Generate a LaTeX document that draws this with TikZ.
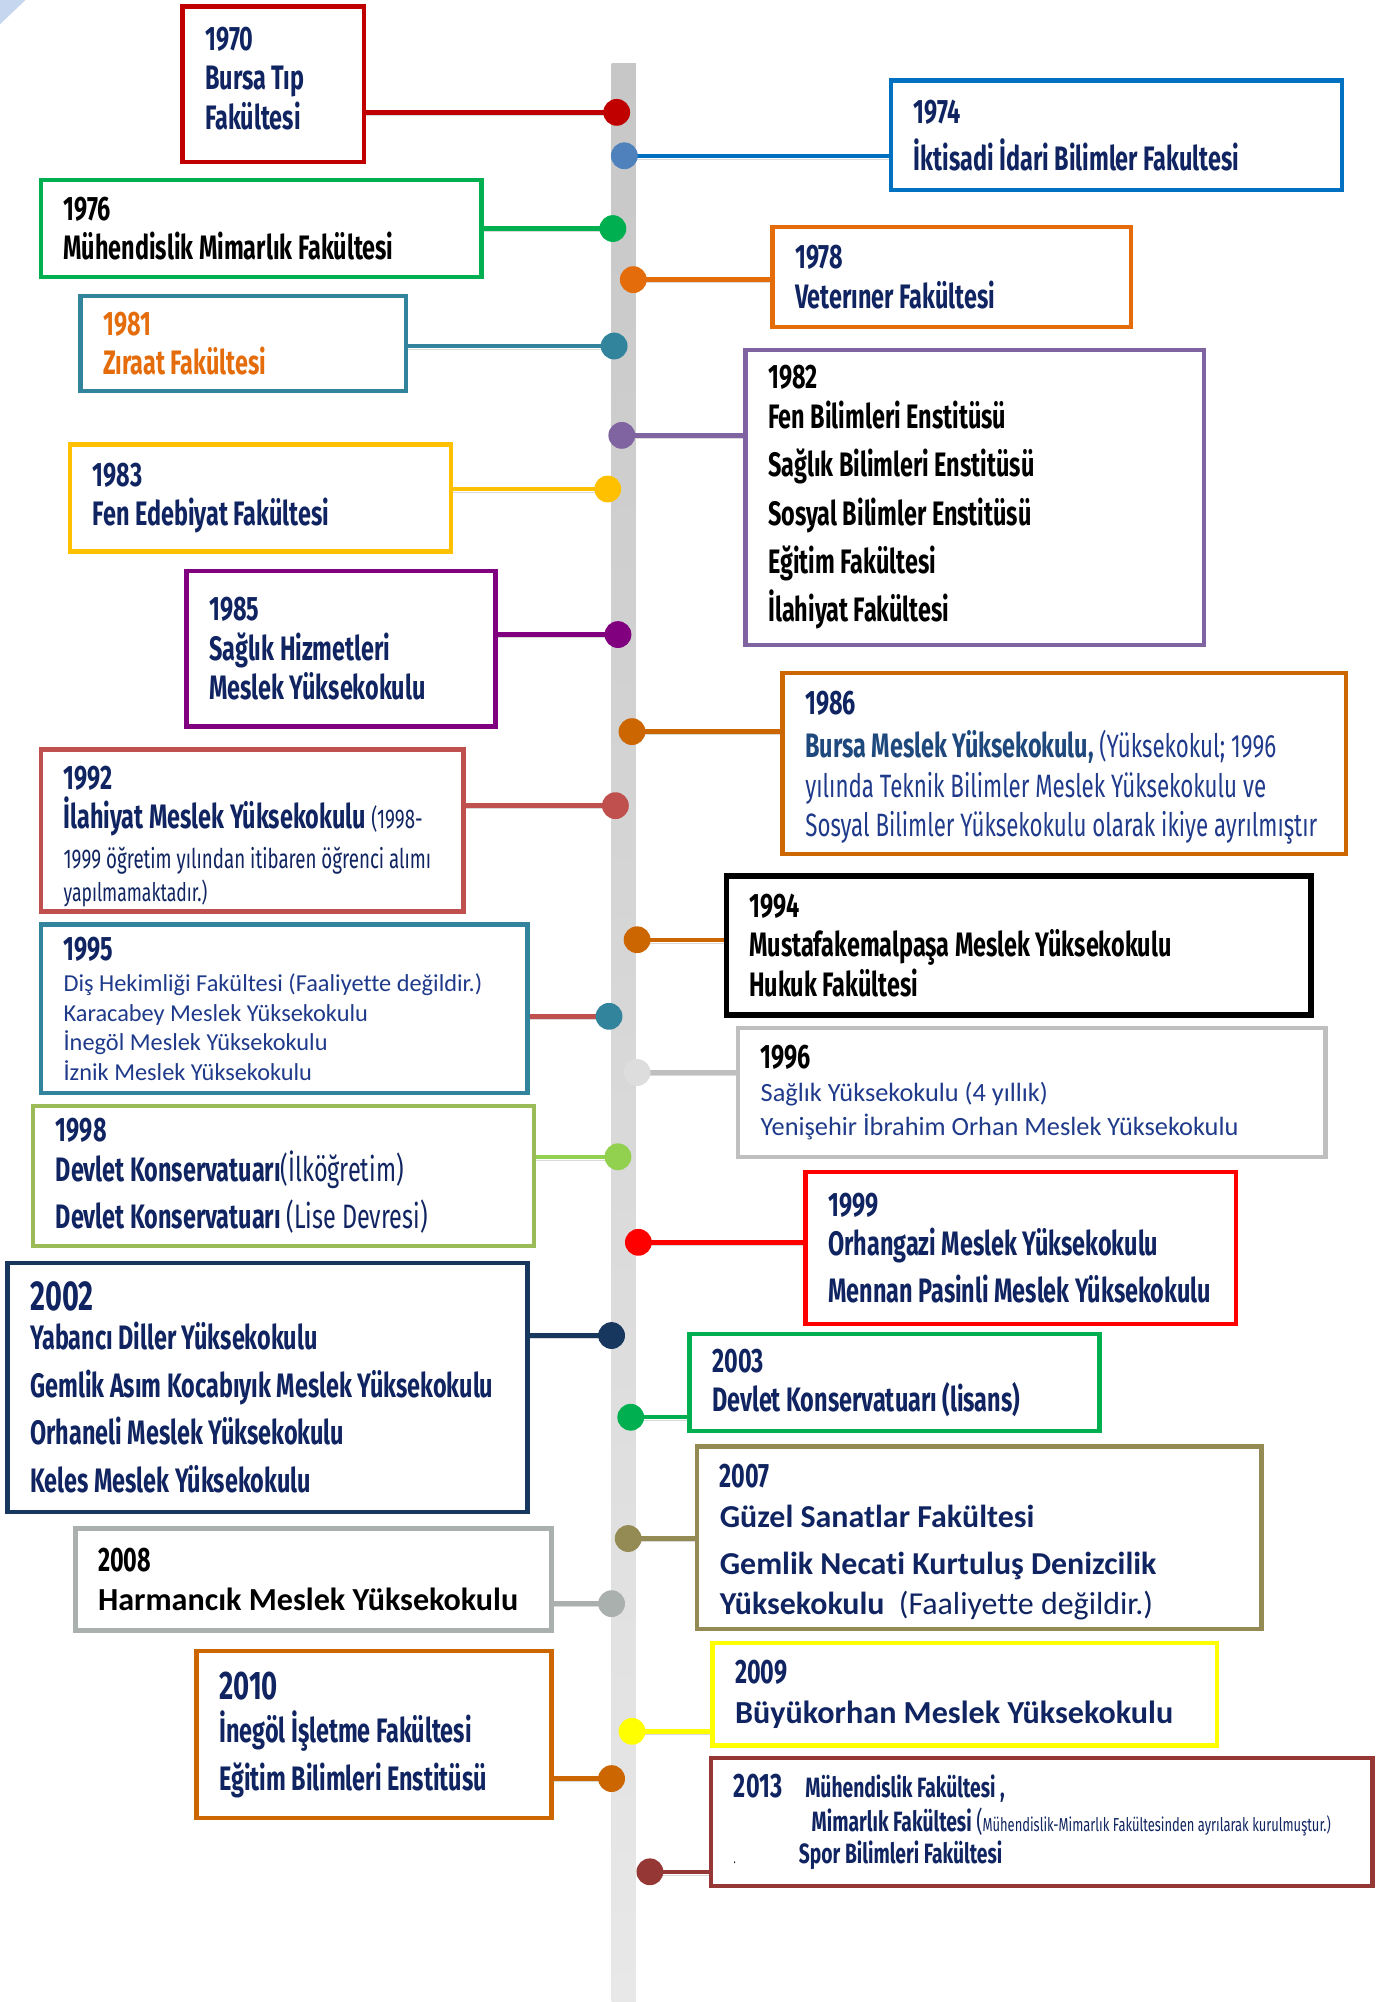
\documentclass[tikz,border=0pt]{standalone}
\usepackage{fontspec}
\usetikzlibrary{backgrounds}
\newfontfamily\agency[FakeStretch=0.69]{Fira Sans}
\newfontfamily\calib[Ligatures=NoCommon]{Carlito}
\newcommand\pxu{0.64pt}

\definecolor{crimson}{HTML}{C00000}
\definecolor{skyblue}{HTML}{4F81BD}
\definecolor{ocean}{HTML}{0070C0}
\definecolor{leaf}{HTML}{00B050}
\definecolor{pumpkin}{HTML}{E46C0A}
\definecolor{teal}{HTML}{31849B}
\definecolor{lavender}{HTML}{8064A2}
\definecolor{amber}{HTML}{FFC000}
\definecolor{plum}{HTML}{800080}
\definecolor{rust}{HTML}{CC6600}
\definecolor{brick}{HTML}{C0504D}
\definecolor{fog}{HTML}{DDDDDD}
\definecolor{silver}{HTML}{BFBFBF}
\definecolor{lime}{HTML}{92D050}
\definecolor{moss}{HTML}{9BBB59}
\definecolor{scarlet}{HTML}{FF0000}
\definecolor{midnight}{HTML}{17375E}
\definecolor{khaki}{HTML}{948A54}
\definecolor{ash}{HTML}{AAB0AE}
\definecolor{lemon}{HTML}{FFFF00}
\definecolor{wine}{HTML}{953735}
\definecolor{inknavy}{HTML}{0F2461}
\definecolor{inkblue}{HTML}{1F3A8A}
\definecolor{steel}{HTML}{1F497D}
\definecolor{cornerblue}{HTML}{C6D6EE}

\tikzset{
  era/.style={draw=#1, line width=2.2pt, fill=white, anchor=north west, outer sep=0pt, inner sep=0pt},
  say/.style={anchor=west, xshift=17.5*\pxu, align=left, inner sep=0pt, text=inknavy,
    font=\agency\bfseries\fontsize{17}{19.8}\selectfont},
  dot/.style={circle, fill=#1, inner sep=0pt, minimum size=21*\pxu},
  link/.style={draw=#1, line width=2.2pt, preaction={draw=black!15, transform canvas={yshift=-1.6pt}}},
}

\begin{document}
\begin{tikzpicture}[x=0.64pt, y=-0.64pt]
  \begin{pgfonlayer}{background}
    \fill[white] (0,0) rectangle (1089,1568);
    \shade[top color=black!22, bottom color=black!9] (479,50) rectangle (498,1568);
  \end{pgfonlayer}
  \useasboundingbox (0,0) rectangle (1089,1568);
  \fill[cornerblue] (0,0) -- (20,0) -- (0,19) -- cycle;

  % left column
  \node[era=crimson, minimum width=142*\pxu, minimum height=122*\pxu] (b1970) at (143,5) {};
  \node[say, yshift=3pt] (t1970) at (b1970.west) {1970\\Bursa Tıp\\Fakültesi};
  \node[era=leaf, minimum width=345*\pxu, minimum height=76*\pxu] (b1976) at (32,141) {};
  \node[say, text=black] (t1976) at (b1976.west) {1976\\Mühendislik Mimarlık Fakültesi};
  \node[era=teal, minimum width=255*\pxu, minimum height=74*\pxu] (b1981) at (63,232) {};
  \node[say, text=pumpkin] (t1981) at (b1981.west) {1981\\Zıraat Fakültesi};
  \node[era=amber, minimum width=298*\pxu, minimum height=84*\pxu] (b1983) at (55,348) {};
  \node[say] (t1983) at (b1983.west) {1983\\Fen Edebiyat Fakültesi};
  \node[era=plum, minimum width=242*\pxu, minimum height=122*\pxu] (b1985) at (146,447) {};
  \node[say] (t1985) at (b1985.west) {1985\\Sağlık Hizmetleri\\Meslek Yüksekokulu};
  \node[era=brick, minimum width=331*\pxu, minimum height=127*\pxu] (b1992) at (32,587) {};
  \node[say, yshift=-3pt] (t1992) at (b1992.west) {1992\\İlahiyat Meslek Yüksekokulu {\mdseries\fontsize{13.6}{17}\selectfont (1998-}\\
    {\mdseries\fontsize{13.6}{17}\selectfont 1999 öğretim yılından itibaren öğrenci alımı}\\[-3pt]
    {\mdseries\fontsize{12.8}{17}\selectfont yapılmamaktadır.)}};
  \node[era=teal, minimum width=381*\pxu, minimum height=132*\pxu] (b1995) at (32,724) {};
  \node[say] (t1995) at (b1995.west) {1995\\[-4pt]
    {\calib\mdseries\fontsize{12.2}{14.7}\selectfont\color{inkblue}Diş Hekimliği Fakültesi (Faaliyette değildir.)}\\[-5pt]
    {\calib\mdseries\fontsize{12.2}{14.7}\selectfont\color{inkblue}Karacabey Meslek Yüksekokulu}\\[-5pt]
    {\calib\mdseries\fontsize{12.2}{14.7}\selectfont\color{inkblue}İnegöl Meslek Yüksekokulu}\\[-5pt]
    {\calib\mdseries\fontsize{12.2}{14.7}\selectfont\color{inkblue}İznik Meslek Yüksekokulu}};
  \node[era=moss, minimum width=392*\pxu, minimum height=110*\pxu] (b1998) at (26,866) {};
  \node[say] (t1998) at (b1998.west) {1998\\Devlet Konservatuarı{\mdseries(İlköğretim)}\\[4pt]
    Devlet Konservatuarı {\mdseries(Lise Devresi)}};
  \node[era=midnight, minimum width=407*\pxu, minimum height=195*\pxu] (b2002) at (6,989) {};
  \node[say] (t2002) at (b2002.west) {{\fontsize{21}{21}\selectfont 2002}\\Yabancı Diller Yüksekokulu\\[4pt]
    Gemlik Asım Kocabıyık Meslek Yüksekokulu\\[4pt]Orhaneli Meslek Yüksekokulu\\[4pt]Keles Meslek Yüksekokulu};
  \node[era=ash, minimum width=373*\pxu, minimum height=80*\pxu] (b2008) at (59,1197) {};
  \node[say, text=black] (t2008) at (b2008.west) {2008\\{\calib\fontsize{16.1}{18}\selectfont Harmancık Meslek Yüksekokulu}};
  \node[era=rust, minimum width=278*\pxu, minimum height=131*\pxu] (b2010) at (154,1293) {};
  \node[say] (t2010) at (b2010.west) {{\fontsize{20}{20}\selectfont 2010}\\[2pt]İnegöl İşletme Fakültesi\\[4pt]
    Eğitim Bilimleri Enstitüsü};

  % right column
  \node[era=ocean, minimum width=353*\pxu, minimum height=86*\pxu] (b1974) at (698,63) {};
  \node[say] (t1974) at (b1974.west) {1974\\[4pt]İktisadi İdari Bilimler Fakultesi};
  \node[era=pumpkin, minimum width=281*\pxu, minimum height=78*\pxu] (b1978) at (605,178) {};
  \node[say] (t1978) at (b1978.west) {1978\\Veterıner Fakültesi};
  \node[era=lavender, minimum width=359*\pxu, minimum height=231*\pxu] (b1982) at (584,274) {};
  \node[say, text=black] (t1982) at (b1982.west) {1982\\Fen Bilimleri Enstitüsü\\[4.5pt]Sağlık Bilimleri Enstitüsü\\[4.5pt]
    Sosyal Bilimler Enstitüsü\\[4.5pt]Eğitim Fakültesi\\[4.5pt]İlahiyat Fakültesi};
  \node[era=rust, minimum width=441*\pxu, minimum height=142*\pxu] (b1986) at (613,527) {};
  \node[say, yshift=-2pt] (t1986) at (b1986.west) {1986\\[2pt]{\color{steel}Bursa Meslek Yüksekokulu,} {\mdseries\fontsize{16.2}{19.8}\selectfont\color{inkblue}(Yüksekokul; 1996}\\
    {\mdseries\fontsize{16.2}{19.8}\selectfont\color{inkblue}yılında Teknik Bilimler Meslek Yüksekokulu ve}\\
    {\mdseries\fontsize{16.2}{19.8}\selectfont\color{inkblue}Sosyal Bilimler Yüksekokulu olarak ikiye ayrılmıştır}};
  \node[era=black, line width=2.8pt, minimum width=458*\pxu, minimum height=109*\pxu] (b1994) at (569,686) {};
  \node[say, text=black] (t1994) at (b1994.west) {1994\\Mustafakemalpaşa Meslek Yüksekokulu\\Hukuk Fakültesi};
  \node[era=silver, minimum width=460*\pxu, minimum height=101*\pxu] (b1996) at (578,805) {};
  \node[say, text=black] (t1996) at (b1996.west) {1996\\[-3pt]
    {\calib\mdseries\fontsize{13.2}{15}\selectfont\color{inkblue}Sağlık Yüksekokulu (4 yıllık)}\\[-3pt]
    {\calib\mdseries\fontsize{13.2}{15}\selectfont\color{inkblue}Yenişehir İbrahim Orhan Meslek Yüksekokulu}};
  \node[era=scarlet, minimum width=337*\pxu, minimum height=119*\pxu] (b1999) at (631,918) {};
  \node[say] (t1999) at (b1999.west) {1999\\Orhangazi Meslek Yüksekokulu\\[3.5pt]Mennan Pasinli Meslek Yüksekokulu};
  \node[era=leaf, minimum width=321*\pxu, minimum height=76*\pxu] (b2003) at (540,1045) {};
  \node[say] (t2003) at (b2003.west) {2003\\Devlet Konservatuarı (lisans)};
  \node[era=khaki, minimum width=442*\pxu, minimum height=143*\pxu] (b2007) at (546,1133) {};
  \node[say, yshift=-2pt] (t2007) at (b2007.west) {2007\\{\calib\fontsize{16}{18}\selectfont Güzel Sanatlar Fakültesi}\\[4pt]
    {\calib\fontsize{16}{18}\selectfont Gemlik Necati Kurtuluş Denizcilik}\\
    {\calib\fontsize{16}{18}\selectfont Yüksekokulu\ \ {\mdseries(Faaliyette değildir.)}}};
  \node[era=lemon, minimum width=395*\pxu, minimum height=80*\pxu] (b2009) at (558,1287) {};
  \node[say] (t2009) at (b2009.west) {2009\\{\calib\fontsize{16.1}{18}\selectfont Büyükorhan Meslek Yüksekokulu}};
  \node[era=wine, minimum width=518*\pxu, minimum height=100*\pxu] (b2013) at (557,1377) {};
  \node[say, font=\agency\bfseries\fontsize{14}{17}\selectfont] (t2013) at (b2013.west)
    {\makebox[35.8pt][l]{\fontsize{17}{17}\selectfont 2013}Mühendislik Fakültesi ,\\[0pt]
    \hspace*{39pt}Mimarlık Fakültesi {\mdseries(\fontsize{9.4}{9}\selectfont Mühendislik-Mimarlık Fakültesinden ayrılarak kurulmuştur.)}\\[-1pt]
    \makebox[0pt][l]{\color{black}\fontsize{5}{5}\selectfont .}\hspace*{32.6pt}Spor Bilimleri Fakültesi};

  % dots on the line
  \foreach \yr/\x/\y/\col in {1970/483/88/crimson, 1974/489/122/skyblue, 1976/480/179/leaf,
      1978/496/219/pumpkin, 1981/481/271/teal, 1982/487/341/lavender, 1983/476/383/amber,
      1985/484/497/plum, 1986/495/573/rust, 1992/482/631/brick, 1994/499/736/rust,
      1995/477/796/teal, 1996/499/840/fog, 1998/484/906/lime, 1999/500/973/scarlet,
      2002/479/1046/midnight, 2003/494/1110/leaf, 2007/492/1205/khaki, 2008/479/1256/ash,
      2009/495/1356/lemon, 2010/479/1393/rust, 2013/509/1466/wine}
    \node[dot=\col] (d\yr) at (\x,\y) {};

  % connectors
  \begin{pgfonlayer}{background}
    \foreach \yr/\col in {1970/crimson, 1974/ocean, 1976/leaf, 1978/pumpkin, 1981/teal,
        1982/lavender, 1983/amber, 1985/plum, 1986/rust, 1992/brick, 1994/rust, 1995/brick,
        1996/silver, 1998/lime, 1999/scarlet, 2002/midnight, 2003/leaf, 2007/khaki,
        2008/ash, 2009/lemon, 2010/rust, 2013/wine}
      \draw[link=\col] (d\yr.center) -- (d\yr -| b\yr.center);
  \end{pgfonlayer}
\end{tikzpicture}
\end{document}
